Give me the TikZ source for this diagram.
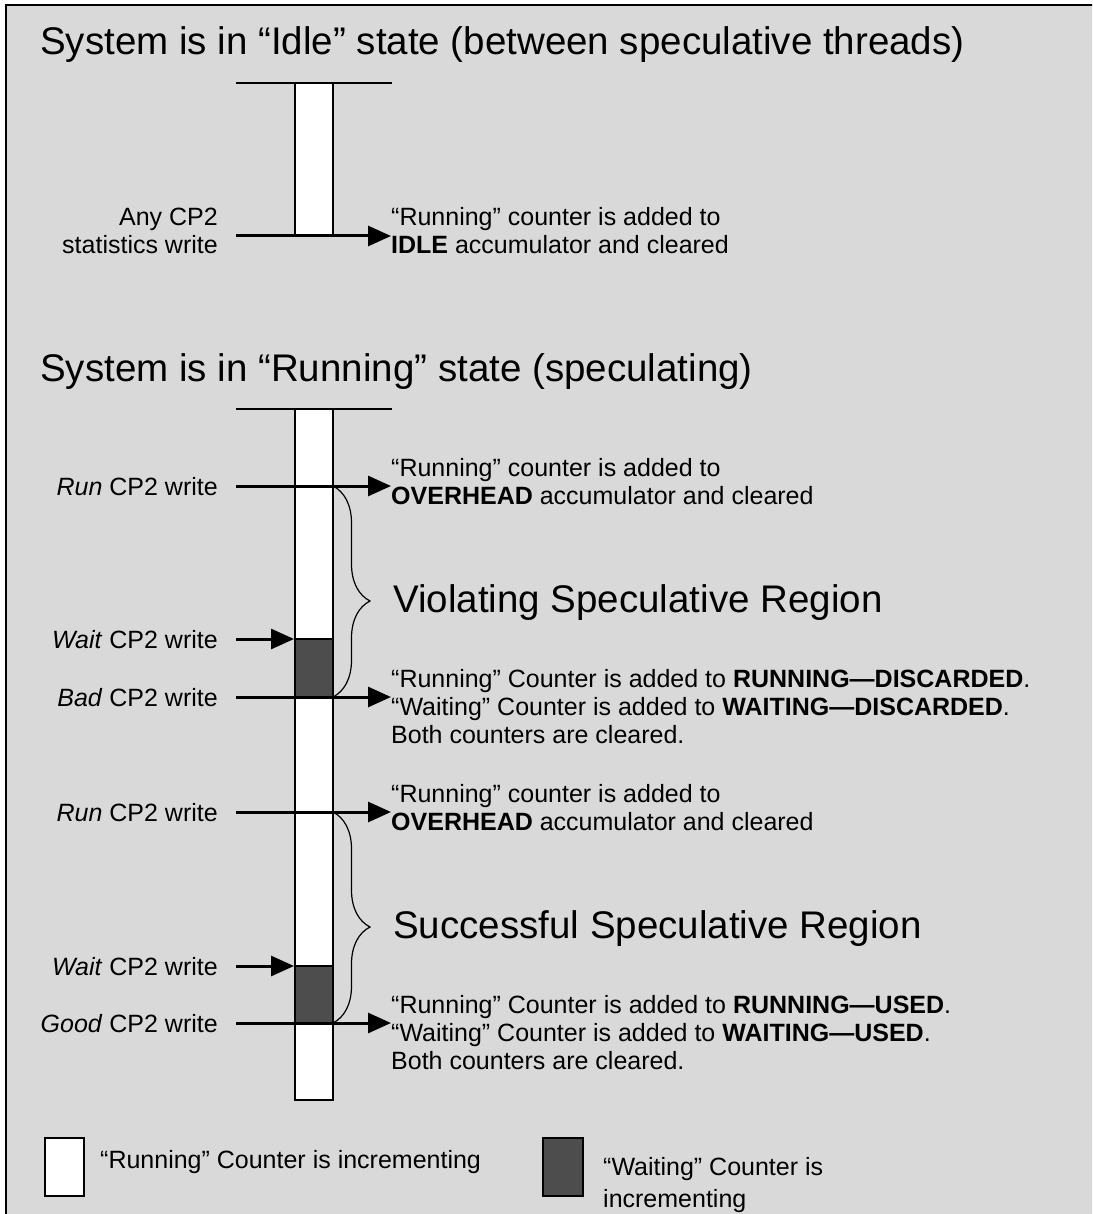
\documentclass[tikz,border=0pt]{standalone}
\usepackage{fontspec}
\setmainfont{Liberation Sans}
\usetikzlibrary{arrows.meta,decorations.pathreplacing}
\definecolor{panelgray}{HTML}{D9D9D9}
\definecolor{waitgray}{HTML}{4D4D4D}

\begin{document}
\begin{tikzpicture}[x=1pt,y=-1pt,
  every node/.style={inner sep=0pt,font=\fontsize{25}{28}\selectfont},
  heading/.style={font=\fontsize{38.5}{44}\selectfont,anchor=base west},
  note/.style={align=left,anchor=base west},
  writer/.style={align=right,anchor=base east},
  hit/.style={line width=3pt,-{Triangle[length=23pt,width=20pt]}},
  bar/.style={fill=white,draw=black,line width=1.3pt},
  waitbar/.style={fill=waitgray,draw=black,line width=1.3pt},
  region/.style={decorate,decoration={brace,amplitude=37pt,aspect=0.545},line width=1.2pt}]
  \useasboundingbox (0,0) rectangle (1092,1214);
  \clip (0,0) rectangle (1092,1214);
  \filldraw[fill=panelgray,line width=1.5pt] (6,5) rectangle (1110,1230);

  % idle state
  \node[heading] (idleTitle) at (40,55) {System is in “Idle” state (between speculative threads)};
  \draw[line width=1.3pt] (236,83) -- (392,83);
  \draw[bar] (295,83) rectangle (333,236);
  \coordinate (idleIn) at (236,236);
  \coordinate (idleOut) at (391,236);
  \node[writer] (anyWrite) at (218,254) {Any CP2\\statistics write};
  \node[note] (idleNote) at (391,254) {“Running” counter is added to\\\textbf{IDLE} accumulator and cleared};
  \draw[hit] (idleIn) -- (idleOut);

  % running state
  \node[heading] (runTitle) at (40,381) {System is in “Running” state (speculating)};
  \draw[line width=1.3pt] (236,409) -- (392,409);
  \draw[bar] (295,409) rectangle (333,1100);
  \draw[waitbar] (295,639) rectangle (333,697);
  \draw[waitbar] (295,966) rectangle (333,1023);

  \coordinate (runAIn) at (236,486);
  \coordinate (runABar) at (333,486);
  \coordinate (runAOut) at (391,486);
  \coordinate (waitAIn) at (236,639);
  \coordinate (waitABar) at (294,639);
  \coordinate (badAIn) at (236,697);
  \coordinate (badABar) at (333,697);
  \coordinate (badAOut) at (391,697);
  \coordinate (runBIn) at (236,812);
  \coordinate (runBBar) at (333,812);
  \coordinate (runBOut) at (391,812);
  \coordinate (waitBIn) at (236,966);
  \coordinate (waitBBar) at (294,966);
  \coordinate (goodBIn) at (236,1023);
  \coordinate (goodBBar) at (333,1023);
  \coordinate (goodBOut) at (391,1023);

  \node[writer] (runALabel) at (218,495) {\textit{Run} CP2 write};
  \node[writer] (waitALabel) at (218,648) {\textit{Wait} CP2 write};
  \node[writer] (badALabel) at (218,706) {\textit{Bad} CP2 write};
  \node[writer] (runBLabel) at (218,821) {\textit{Run} CP2 write};
  \node[writer] (waitBLabel) at (218,975) {\textit{Wait} CP2 write};
  \node[writer] (goodBLabel) at (218,1032) {\textit{Good} CP2 write};

  \node[note] (runANote) at (391,504) {“Running” counter is added to\\\textbf{OVERHEAD} accumulator and cleared};
  \node[note] (badANote) at (391,743) {“Running” Counter is added to \textbf{RUNNING—DISCARDED}.\\“Waiting” Counter is added to \textbf{WAITING—DISCARDED}.\\Both counters are cleared.};
  \node[note] (runBNote) at (391,830) {“Running” counter is added to\\\textbf{OVERHEAD} accumulator and cleared};
  \node[note] (goodBNote) at (391,1069) {“Running” Counter is added to \textbf{RUNNING—USED}.\\“Waiting” Counter is added to \textbf{WAITING—USED}.\\Both counters are cleared.};

  \draw[hit] (runAIn) -- (runAOut);
  \draw[hit] (waitAIn) -- (waitABar);
  \draw[hit] (badAIn) -- (badAOut);
  \draw[hit] (runBIn) -- (runBOut);
  \draw[hit] (waitBIn) -- (waitBBar);
  \draw[hit] (goodBIn) -- (goodBOut);

  \draw[region] (runABar) -- (badABar);
  \draw[region] (runBBar) -- (goodBBar);
  \node[heading] (violating) at (393,612) {Violating Speculative Region};
  \node[heading] (successful) at (393,938) {Successful Speculative Region};

  % legend
  \draw[bar,line width=2pt] (45,1138) rectangle (84,1196);
  \node[note] (runKey) at (100,1168) {“Running” Counter is incrementing};
  \draw[waitbar,line width=2pt] (543,1138) rectangle (583,1196);
  \node[note,font=\fontsize{25}{32}\selectfont] (waitKey) at (603,1207) {“Waiting” Counter is\\incrementing};
\end{tikzpicture}
\end{document}
